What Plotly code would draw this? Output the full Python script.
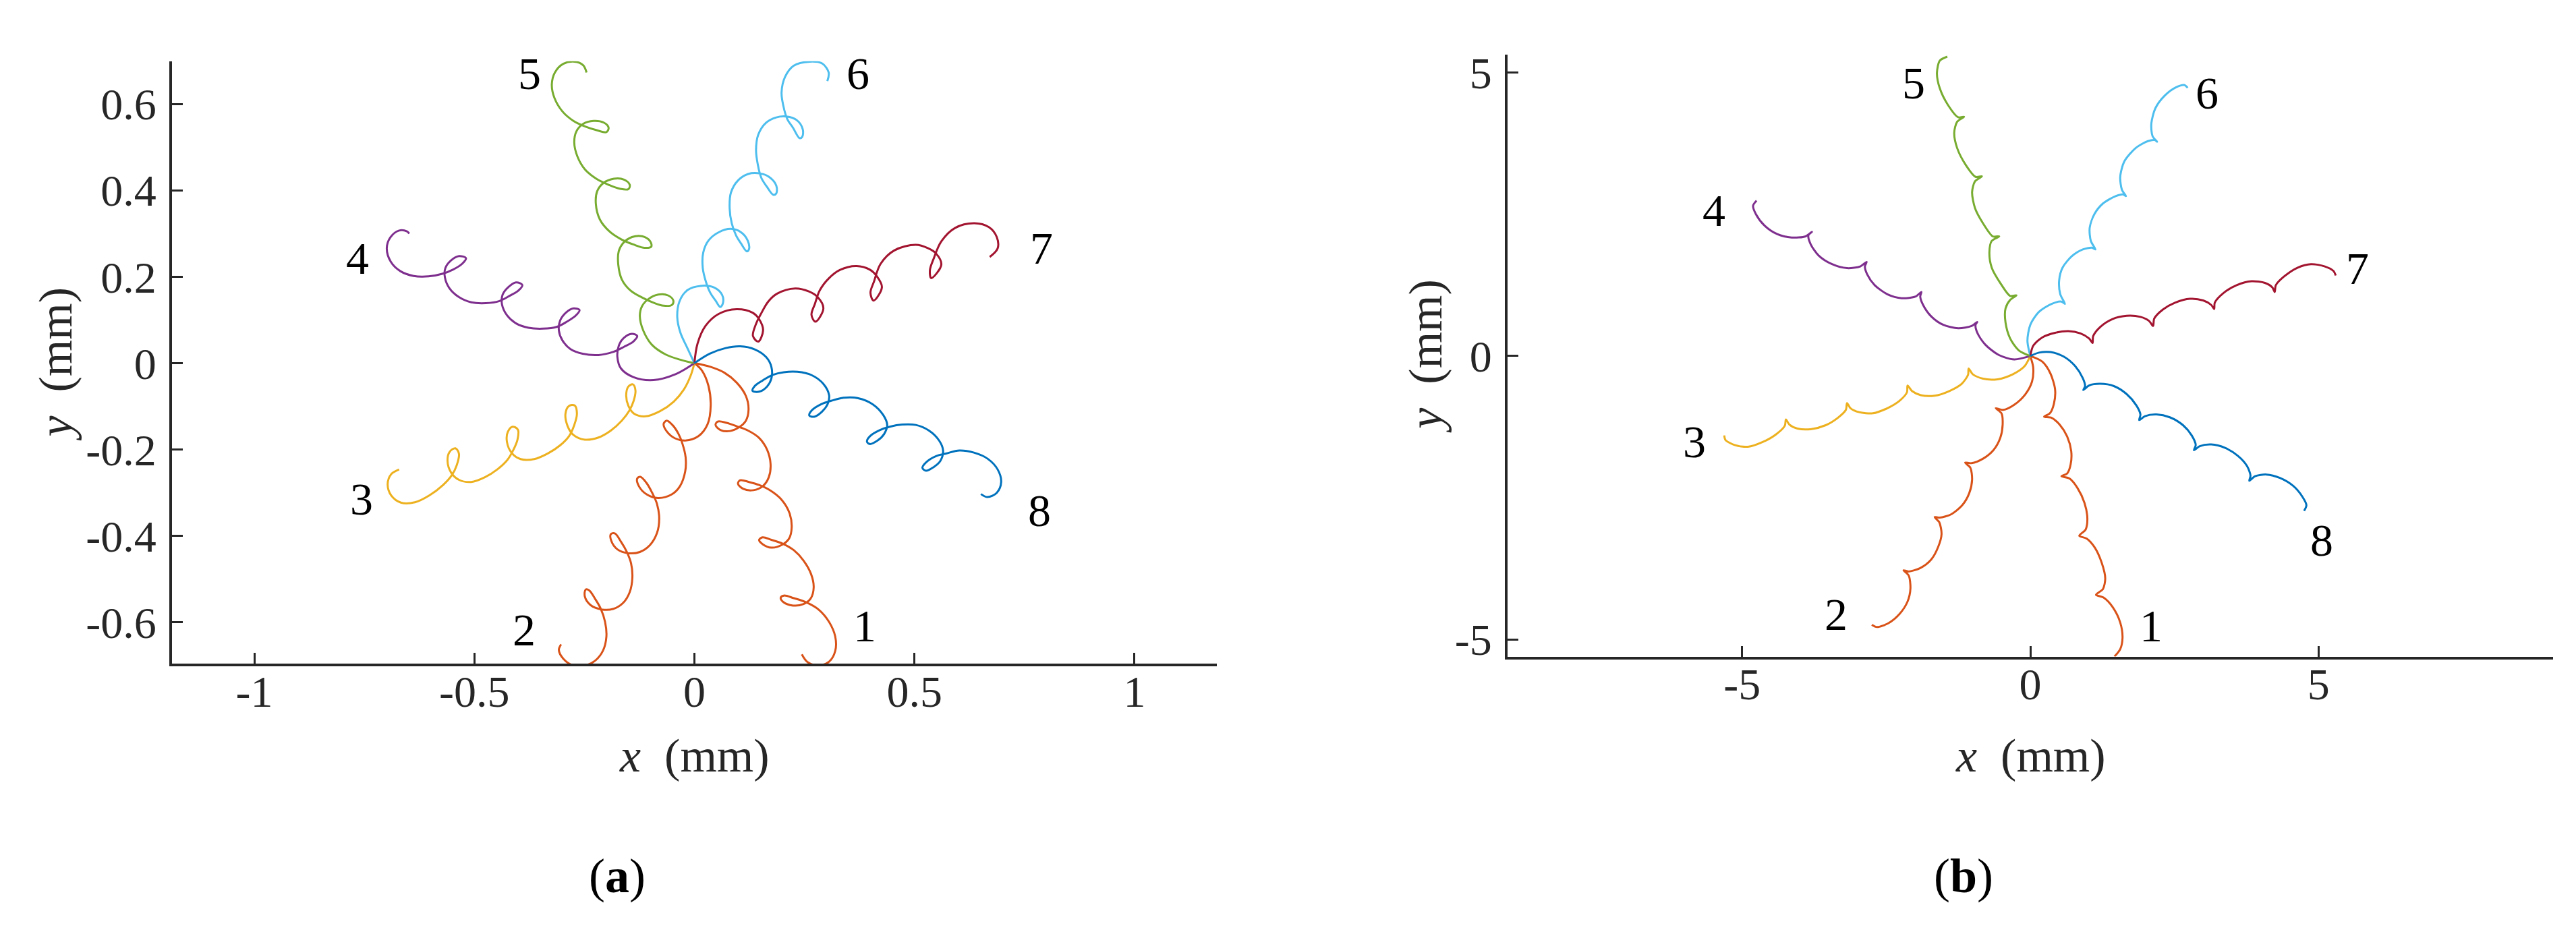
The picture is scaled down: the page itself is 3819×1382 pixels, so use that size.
import plotly.graph_objects as go

# ---- panel (a): trajectories, mm ----
a1_x = [0, 0.035, 0.068, 0.096, 0.117, 0.123, 0.117, 0.102, 0.081, 0.060, 0.048, 0.053, 0.073, 0.096, 0.122, 0.147, 0.165, 0.173, 0.169, 0.155, 0.134, 0.111, 0.099, 0.104, 0.124, 0.147, 0.173, 0.198, 0.216, 0.221, 0.215, 0.198, 0.175, 0.155, 0.147, 0.155, 0.175, 0.201, 0.226, 0.248, 0.265, 0.271, 0.264, 0.247, 0.224, 0.202, 0.196, 0.203, 0.226, 0.255, 0.283, 0.306, 0.320, 0.320, 0.306, 0.280, 0.257, 0.244]
a1_y = [0, -0.008, -0.022, -0.045, -0.076, -0.107, -0.133, -0.148, -0.157, -0.155, -0.143, -0.135, -0.138, -0.146, -0.156, -0.173, -0.200, -0.233, -0.264, -0.285, -0.294, -0.291, -0.279, -0.271, -0.275, -0.282, -0.295, -0.316, -0.347, -0.380, -0.406, -0.421, -0.427, -0.419, -0.409, -0.403, -0.409, -0.418, -0.433, -0.457, -0.488, -0.519, -0.545, -0.558, -0.561, -0.553, -0.543, -0.538, -0.544, -0.554, -0.571, -0.599, -0.633, -0.666, -0.691, -0.700, -0.692, -0.674]

a2_x = [0, 0.017, 0.032, 0.037, 0.030, 0.009, -0.021, -0.044, -0.062, -0.070, -0.063, -0.050, -0.036, -0.027, -0.020, -0.021, -0.033, -0.052, -0.083, -0.108, -0.126, -0.130, -0.123, -0.109, -0.096, -0.085, -0.080, -0.085, -0.101, -0.124, -0.149, -0.175, -0.189, -0.190, -0.181, -0.167, -0.154, -0.144, -0.141, -0.147, -0.162, -0.185, -0.211, -0.236, -0.249, -0.247, -0.239, -0.226, -0.213, -0.203, -0.200, -0.208, -0.226, -0.252, -0.275, -0.298, -0.308, -0.303]
a2_y = [0, -0.017, -0.053, -0.097, -0.141, -0.169, -0.179, -0.174, -0.159, -0.141, -0.133, -0.143, -0.164, -0.187, -0.218, -0.251, -0.285, -0.304, -0.312, -0.304, -0.285, -0.267, -0.263, -0.277, -0.300, -0.326, -0.360, -0.393, -0.421, -0.437, -0.440, -0.431, -0.411, -0.396, -0.394, -0.413, -0.436, -0.463, -0.496, -0.530, -0.555, -0.569, -0.570, -0.560, -0.540, -0.524, -0.526, -0.545, -0.568, -0.599, -0.633, -0.666, -0.689, -0.701, -0.700, -0.684, -0.664, -0.651]

a3_x = [0, -0.009, -0.024, -0.047, -0.078, -0.111, -0.137, -0.150, -0.155, -0.150, -0.140, -0.134, -0.138, -0.148, -0.165, -0.190, -0.218, -0.249, -0.275, -0.288, -0.293, -0.285, -0.272, -0.267, -0.273, -0.285, -0.305, -0.333, -0.364, -0.395, -0.415, -0.426, -0.424, -0.413, -0.401, -0.402, -0.411, -0.425, -0.448, -0.476, -0.507, -0.535, -0.553, -0.561, -0.556, -0.543, -0.535, -0.540, -0.551, -0.571, -0.602, -0.635, -0.666, -0.689, -0.697, -0.689, -0.671]
a3_y = [0, -0.030, -0.061, -0.089, -0.111, -0.123, -0.117, -0.099, -0.074, -0.054, -0.049, -0.063, -0.087, -0.110, -0.133, -0.156, -0.172, -0.177, -0.166, -0.146, -0.117, -0.099, -0.098, -0.117, -0.143, -0.169, -0.190, -0.209, -0.222, -0.222, -0.208, -0.182, -0.159, -0.147, -0.154, -0.177, -0.200, -0.224, -0.246, -0.264, -0.275, -0.270, -0.253, -0.226, -0.205, -0.197, -0.210, -0.236, -0.259, -0.282, -0.306, -0.322, -0.323, -0.306, -0.280, -0.257, -0.246]

a4_x = [0, -0.042, -0.093, -0.139, -0.167, -0.175, -0.172, -0.161, -0.142, -0.130, -0.139, -0.160, -0.185, -0.218, -0.254, -0.282, -0.300, -0.308, -0.305, -0.292, -0.275, -0.261, -0.269, -0.290, -0.313, -0.344, -0.377, -0.405, -0.426, -0.437, -0.436, -0.423, -0.405, -0.391, -0.400, -0.420, -0.443, -0.474, -0.507, -0.535, -0.557, -0.567, -0.566, -0.553, -0.535, -0.519, -0.528, -0.548, -0.573, -0.604, -0.638, -0.668, -0.690, -0.699, -0.691, -0.671, -0.653, -0.648]
a4_y = [0, -0.025, -0.039, -0.032, -0.012, 0.014, 0.040, 0.058, 0.068, 0.063, 0.050, 0.038, 0.026, 0.019, 0.022, 0.033, 0.053, 0.076, 0.099, 0.117, 0.127, 0.123, 0.111, 0.096, 0.084, 0.080, 0.082, 0.092, 0.111, 0.135, 0.158, 0.176, 0.187, 0.181, 0.168, 0.156, 0.144, 0.139, 0.141, 0.153, 0.174, 0.199, 0.220, 0.238, 0.248, 0.243, 0.230, 0.217, 0.207, 0.201, 0.202, 0.213, 0.235, 0.266, 0.291, 0.307, 0.305, 0.300]

a5_x = [0, -0.032, -0.065, -0.096, -0.116, -0.124, -0.119, -0.104, -0.082, -0.060, -0.048, -0.051, -0.070, -0.093, -0.119, -0.145, -0.165, -0.173, -0.172, -0.162, -0.142, -0.119, -0.101, -0.098, -0.113, -0.139, -0.165, -0.193, -0.215, -0.224, -0.221, -0.207, -0.183, -0.160, -0.147, -0.150, -0.170, -0.195, -0.223, -0.249, -0.266, -0.273, -0.268, -0.253, -0.229, -0.206, -0.195, -0.200, -0.221, -0.246, -0.275, -0.300, -0.318, -0.324, -0.317, -0.298, -0.272, -0.253, -0.245]
a5_y = [0, 0.008, 0.020, 0.042, 0.075, 0.109, 0.132, 0.149, 0.159, 0.157, 0.145, 0.135, 0.133, 0.140, 0.152, 0.168, 0.194, 0.228, 0.259, 0.278, 0.292, 0.294, 0.283, 0.270, 0.267, 0.275, 0.286, 0.305, 0.333, 0.369, 0.398, 0.417, 0.427, 0.425, 0.413, 0.403, 0.404, 0.413, 0.427, 0.449, 0.479, 0.511, 0.537, 0.554, 0.561, 0.557, 0.545, 0.535, 0.539, 0.547, 0.561, 0.583, 0.614, 0.645, 0.673, 0.693, 0.698, 0.690, 0.673]

a6_x = [0, -0.016, -0.032, -0.039, -0.034, -0.016, 0.014, 0.045, 0.063, 0.065, 0.059, 0.048, 0.036, 0.026, 0.019, 0.020, 0.032, 0.055, 0.083, 0.106, 0.121, 0.124, 0.119, 0.106, 0.095, 0.085, 0.080, 0.083, 0.099, 0.122, 0.150, 0.170, 0.186, 0.186, 0.179, 0.165, 0.152, 0.144, 0.140, 0.145, 0.163, 0.186, 0.209, 0.232, 0.246, 0.245, 0.239, 0.224, 0.211, 0.202, 0.198, 0.206, 0.226, 0.262, 0.290, 0.305, 0.302]
a6_y = [0, 0.035, 0.071, 0.107, 0.143, 0.169, 0.179, 0.175, 0.158, 0.140, 0.130, 0.145, 0.163, 0.189, 0.220, 0.256, 0.284, 0.303, 0.311, 0.303, 0.284, 0.264, 0.259, 0.277, 0.295, 0.323, 0.359, 0.395, 0.423, 0.438, 0.439, 0.431, 0.411, 0.393, 0.390, 0.408, 0.429, 0.460, 0.493, 0.529, 0.557, 0.569, 0.571, 0.563, 0.542, 0.524, 0.521, 0.545, 0.565, 0.596, 0.627, 0.663, 0.689, 0.698, 0.694, 0.673, 0.653]

a7_x = [0, 0.007, 0.025, 0.055, 0.096, 0.132, 0.147, 0.156, 0.145, 0.133, 0.140, 0.150, 0.168, 0.188, 0.229, 0.260, 0.280, 0.293, 0.275, 0.266, 0.274, 0.285, 0.306, 0.331, 0.367, 0.398, 0.414, 0.426, 0.407, 0.400, 0.408, 0.423, 0.454, 0.503, 0.531, 0.549, 0.561, 0.538, 0.535, 0.544, 0.561, 0.592, 0.636, 0.669, 0.687, 0.689, 0.671]
a7_y = [0, 0.045, 0.086, 0.114, 0.125, 0.117, 0.102, 0.076, 0.050, 0.063, 0.091, 0.112, 0.143, 0.161, 0.173, 0.166, 0.153, 0.127, 0.096, 0.112, 0.138, 0.169, 0.197, 0.216, 0.225, 0.217, 0.202, 0.176, 0.145, 0.163, 0.189, 0.230, 0.261, 0.274, 0.266, 0.254, 0.228, 0.197, 0.215, 0.243, 0.282, 0.313, 0.324, 0.315, 0.292, 0.266, 0.246]

a8_x = [0, 0.035, 0.071, 0.104, 0.137, 0.163, 0.175, 0.175, 0.165, 0.147, 0.132, 0.137, 0.155, 0.178, 0.203, 0.234, 0.267, 0.293, 0.306, 0.303, 0.290, 0.272, 0.261, 0.267, 0.288, 0.311, 0.339, 0.372, 0.405, 0.429, 0.438, 0.431, 0.416, 0.398, 0.392, 0.400, 0.421, 0.444, 0.472, 0.503, 0.533, 0.556, 0.565, 0.559, 0.543, 0.526, 0.518, 0.528, 0.549, 0.572, 0.602, 0.635, 0.666, 0.689, 0.697, 0.687, 0.666, 0.651]
a8_y = [0, 0.022, 0.035, 0.039, 0.032, 0.014, -0.009, -0.035, -0.054, -0.066, -0.064, -0.053, -0.040, -0.027, -0.021, -0.020, -0.028, -0.048, -0.074, -0.094, -0.112, -0.124, -0.121, -0.109, -0.095, -0.087, -0.080, -0.081, -0.095, -0.120, -0.143, -0.164, -0.179, -0.187, -0.181, -0.168, -0.155, -0.147, -0.142, -0.143, -0.156, -0.179, -0.202, -0.226, -0.241, -0.249, -0.242, -0.228, -0.215, -0.209, -0.202, -0.207, -0.221, -0.246, -0.275, -0.300, -0.310, -0.303]

# ---- panel (b): trajectories, mm ----
b1_x = [0, 0.21, 0.35, 0.43, 0.41, 0.34, 0.24, 0.37, 0.51, 0.64, 0.71, 0.70, 0.64, 0.54, 0.68, 0.82, 0.94, 0.99, 0.96, 0.85, 0.98, 1.12, 1.24, 1.30, 1.26, 1.14, 1.27, 1.43, 1.56, 1.60, 1.56, 1.46]
b1_y = [0, -0.10, -0.31, -0.59, -0.84, -1.01, -1.07, -1.09, -1.21, -1.42, -1.68, -1.91, -2.07, -2.12, -2.16, -2.33, -2.59, -2.87, -3.06, -3.17, -3.22, -3.38, -3.65, -3.92, -4.11, -4.21, -4.26, -4.43, -4.70, -4.97, -5.17, -5.30]

b2_x = [0, 0.05, 0.03, -0.09, -0.28, -0.47, -0.60, -0.50, -0.48, -0.52, -0.64, -0.82, -1.02, -1.13, -1.04, -1.01, -1.06, -1.18, -1.37, -1.57, -1.66, -1.58, -1.54, -1.60, -1.72, -1.91, -2.11, -2.20, -2.11, -2.08, -2.13, -2.27, -2.46, -2.66, -2.75]
b2_y = [0, -0.20, -0.45, -0.68, -0.86, -0.95, -0.92, -1.01, -1.21, -1.44, -1.66, -1.81, -1.89, -1.88, -1.97, -2.18, -2.42, -2.63, -2.79, -2.85, -2.84, -2.93, -3.14, -3.37, -3.59, -3.74, -3.80, -3.78, -3.87, -4.10, -4.33, -4.55, -4.71, -4.78, -4.74]

b3_x = [0, -0.10, -0.30, -0.57, -0.82, -1.00, -1.07, -1.08, -1.19, -1.41, -1.66, -1.90, -2.05, -2.13, -2.14, -2.27, -2.48, -2.73, -2.97, -3.12, -3.18, -3.20, -3.34, -3.55, -3.81, -4.04, -4.18, -4.24, -4.26, -4.41, -4.65, -4.90, -5.13, -5.29, -5.31]
b3_y = [0, -0.18, -0.32, -0.41, -0.40, -0.32, -0.22, -0.33, -0.49, -0.62, -0.70, -0.69, -0.62, -0.52, -0.64, -0.79, -0.92, -1.01, -0.99, -0.92, -0.83, -0.95, -1.09, -1.22, -1.29, -1.28, -1.21, -1.12, -1.23, -1.38, -1.52, -1.60, -1.57, -1.48, -1.40]

b4_x = [0, -0.28, -0.55, -0.78, -0.92, -0.95, -0.92, -1.02, -1.25, -1.51, -1.72, -1.86, -1.91, -1.89, -1.99, -2.23, -2.48, -2.70, -2.83, -2.87, -2.84, -2.95, -3.18, -3.44, -3.67, -3.81, -3.85, -3.79, -3.90, -4.14, -4.39, -4.61, -4.76, -4.81, -4.75]
b4_y = [0, -0.06, 0.02, 0.20, 0.41, 0.55, 0.60, 0.53, 0.49, 0.55, 0.70, 0.90, 1.05, 1.13, 1.05, 1.02, 1.09, 1.25, 1.44, 1.58, 1.66, 1.58, 1.55, 1.62, 1.77, 1.97, 2.13, 2.19, 2.11, 2.09, 2.15, 2.30, 2.50, 2.65, 2.74]

b5_x = [0, -0.20, -0.35, -0.43, -0.43, -0.35, -0.24, -0.35, -0.51, -0.67, -0.71, -0.67, -0.54, -0.65, -0.82, -0.96, -1.01, -0.96, -0.84, -0.95, -1.12, -1.27, -1.32, -1.27, -1.15, -1.25, -1.43, -1.57, -1.62, -1.57, -1.44]
b5_y = [0, 0.10, 0.31, 0.59, 0.84, 0.99, 1.07, 1.06, 1.27, 1.56, 1.83, 2.03, 2.11, 2.11, 2.34, 2.61, 2.89, 3.08, 3.17, 3.16, 3.37, 3.67, 3.94, 4.13, 4.22, 4.21, 4.43, 4.72, 4.99, 5.21, 5.28]

b6_x = [0, -0.05, 0.00, 0.15, 0.37, 0.54, 0.60, 0.52, 0.50, 0.56, 0.72, 0.91, 1.07, 1.13, 1.05, 1.03, 1.11, 1.26, 1.48, 1.61, 1.66, 1.59, 1.56, 1.63, 1.83, 2.04, 2.16, 2.20, 2.12, 2.10, 2.17, 2.34, 2.53, 2.67, 2.73]
b6_y = [0, 0.27, 0.55, 0.78, 0.92, 0.96, 0.92, 1.09, 1.33, 1.56, 1.76, 1.88, 1.91, 1.88, 2.03, 2.26, 2.50, 2.69, 2.82, 2.85, 2.82, 2.93, 3.16, 3.43, 3.67, 3.79, 3.81, 3.78, 3.88, 4.10, 4.37, 4.60, 4.74, 4.78, 4.73]

b7_x = [0, 0.05, 0.21, 0.43, 0.66, 0.87, 1.02, 1.08, 1.09, 1.21, 1.42, 1.67, 1.91, 2.06, 2.13, 2.15, 2.30, 2.51, 2.77, 3.00, 3.14, 3.19, 3.20, 3.35, 3.58, 3.84, 4.07, 4.20, 4.24, 4.26, 4.40, 4.64, 4.87, 5.11, 5.26, 5.30]
b7_y = [0, 0.18, 0.33, 0.41, 0.44, 0.40, 0.31, 0.23, 0.35, 0.51, 0.65, 0.71, 0.69, 0.62, 0.53, 0.66, 0.82, 0.94, 1.01, 0.98, 0.90, 0.83, 0.94, 1.11, 1.25, 1.32, 1.29, 1.21, 1.13, 1.25, 1.40, 1.56, 1.62, 1.58, 1.50, 1.42]

b8_x = [0, 0.15, 0.35, 0.58, 0.78, 0.91, 0.95, 0.92, 1.02, 1.21, 1.45, 1.67, 1.84, 1.91, 1.89, 1.99, 2.19, 2.42, 2.65, 2.80, 2.87, 2.84, 2.94, 3.14, 3.38, 3.60, 3.76, 3.82, 3.80, 3.90, 4.10, 4.33, 4.56, 4.72, 4.79, 4.75]
b8_y = [0, 0.06, 0.07, -0.01, -0.18, -0.39, -0.53, -0.60, -0.52, -0.49, -0.53, -0.67, -0.87, -1.03, -1.13, -1.06, -1.03, -1.08, -1.22, -1.40, -1.57, -1.66, -1.59, -1.56, -1.62, -1.76, -1.94, -2.11, -2.20, -2.12, -2.09, -2.15, -2.29, -2.48, -2.63, -2.73]

# curve number labels
labels = ["1", "2", "3", "4", "5", "6", "7", "8"]
a_lab_x = [0.387, -0.387, -0.756, -0.765, -0.374, 0.372, 0.789, 0.784]
a_lab_y = [-0.608, -0.618, -0.314, 0.243, 0.670, 0.670, 0.267, -0.341]
b_lab_x = [2.09, -3.37, -5.83, -5.49, -2.03, 3.07, 5.68, 5.05]
b_lab_y = [-4.76, -4.56, -1.51, 2.57, 4.82, 4.64, 1.54, -3.25]

colors = ["#D95319", "#D95319", "#EDB120", "#7E2F8E", "#77AC30", "#4DBEEE", "#A2142F", "#0072BD"]

a_xs = [a1_x, a2_x, a3_x, a4_x, a5_x, a6_x, a7_x, a8_x]
a_ys = [a1_y, a2_y, a3_y, a4_y, a5_y, a6_y, a7_y, a8_y]
b_xs = [b1_x, b2_x, b3_x, b4_x, b5_x, b6_x, b7_x, b8_x]
b_ys = [b1_y, b2_y, b3_y, b4_y, b5_y, b6_y, b7_y, b8_y]

W, H = 3819, 1382
FONT = "Liberation Serif"
INK = "#262626"

fig = go.Figure()
for i in range(8):
    fig.add_trace(go.Scatter(x=a_xs[i], y=a_ys[i], mode="lines", xaxis="x", yaxis="y",
                             line=dict(color=colors[i], width=3, shape="spline", smoothing=1.0),
                             hoverinfo="skip", showlegend=False))
for i in range(8):
    fig.add_trace(go.Scatter(x=b_xs[i], y=b_ys[i], mode="lines", xaxis="x2", yaxis="y2",
                             line=dict(color=colors[i], width=3, shape="spline", smoothing=0.8),
                             hoverinfo="skip", showlegend=False))

axis_common = dict(showline=True, linecolor=INK, linewidth=4, ticks="inside", ticklen=16, tickwidth=3,
                   tickcolor=INK, showgrid=False, zeroline=False, mirror=False, fixedrange=True,
                   tickfont=dict(family=FONT, size=66, color=INK))

fig.update_layout(
    width=W, height=H, margin=dict(l=0, r=0, t=0, b=0),
    paper_bgcolor="white", plot_bgcolor="white", showlegend=False,
    xaxis=dict(axis_common, domain=[247 / W, 1796 / W], range=[-1.187, 1.187], anchor="y",
               tickvals=[-1, -0.5, 0, 0.5, 1], ticktext=["-1", "-0.5", "0", "0.5", "1"], ticklabelstandoff=-20),
    yaxis=dict(axis_common, domain=[1 - 982 / H, 1 - 74 / H], range=[-0.696, 0.699], anchor="x",
               tickvals=[-0.6, -0.4, -0.2, 0, 0.2, 0.4, 0.6],
               ticktext=["-0.6", "-0.4", "-0.2", "0", "0.2", "0.4", "0.6"], ticklabelstandoff=6),
    xaxis2=dict(axis_common, domain=[2227 / W, 3777 / W], range=[-9.07, 9.07], anchor="y2",
                tickvals=[-5, 0, 5], ticktext=["-5", "0", "5"], ticklabelstandoff=-20),
    yaxis2=dict(axis_common, domain=[1 - 971 / H, 1 - 64.5 / H], range=[-5.30, 5.31], anchor="x2",
                tickvals=[-5, 0, 5], ticktext=["-5", "0", "5"], ticklabelstandoff=6),
)

ann = []
for i in range(8):
    ann.append(dict(x=a_lab_x[i], y=a_lab_y[i], xref="x", yref="y", text=labels[i], showarrow=False,
                    xanchor="center", yanchor="middle", font=dict(family=FONT, size=68, color="black")))
    ann.append(dict(x=b_lab_x[i], y=b_lab_y[i], xref="x2", yref="y2", text=labels[i], showarrow=False,
                    xanchor="center", yanchor="middle", font=dict(family=FONT, size=68, color="black")))

title_font = dict(family=FONT, size=70, color=INK)
centre = dict(xref="paper", yref="paper", showarrow=False, xanchor="center", yanchor="middle")
ann += [
    dict(centre, x=1021 / W, y=1 - 1120 / H, text="<i>x</i>  (mm)", font=title_font),
    dict(centre, x=3002 / W, y=1 - 1120 / H, text="<i>x</i>  (mm)", font=title_font),
    dict(centre, x=75 / W, y=1 - 530 / H, text="<i>y</i>  (mm)", textangle=-90, font=title_font),
    dict(centre, x=2106 / W, y=1 - 518 / H, text="<i>y</i>  (mm)", textangle=-90, font=title_font),
    dict(centre, x=907 / W, y=1 - 1302 / H, text="(<b>a</b>)", font=dict(family=FONT, size=72, color="black")),
    dict(centre, x=2903 / W, y=1 - 1302 / H, text="(<b>b</b>)", font=dict(family=FONT, size=72, color="black")),
]
fig.update_layout(annotations=ann)

fig.write_html("out.html")
